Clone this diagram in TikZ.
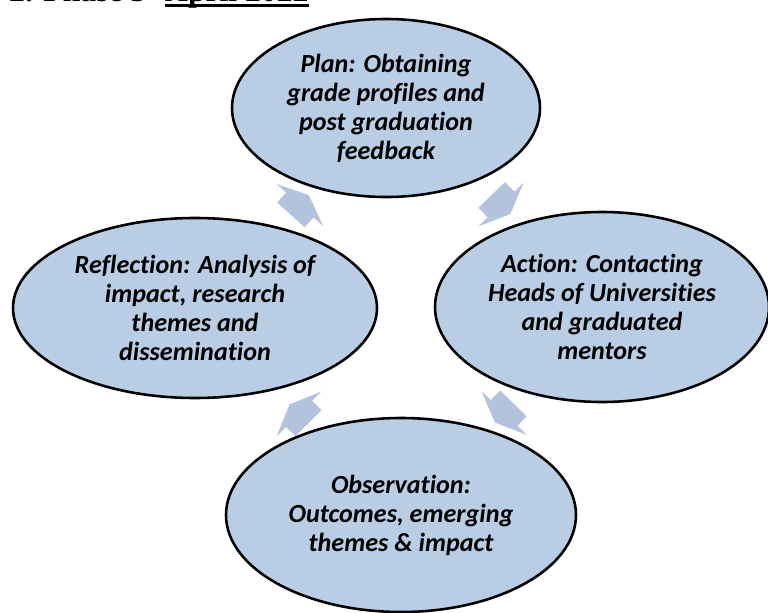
\documentclass[tikz,border=0pt]{standalone}
\usepackage{fontspec}
\setmainfont{Carlito}[Ligatures=NoCommon]
\newfontfamily\headfont{Liberation Serif}
\usetikzlibrary{shapes.geometric,calc,backgrounds}

\definecolor{ovalblue}{RGB}{185,205,228}
\definecolor{arrowblue}{RGB}{179,195,222}

\tikzset{
  stage/.style={ellipse, draw=black, line width=2.2pt, fill=ovalblue,
    inner sep=0pt, align=center,
    font=\bfseries\itshape\fontsize{22.3}{24.7}\selectfont},
  heading/.style={anchor=base west, inner sep=0pt,
    font=\headfont\bfseries\fontsize{27}{30}\selectfont},
  % short, wide block arrow pointing along +x
  cyclearrow/.pic={
    \fill[arrowblue] (-0.4,-0.555) -- (0,-0.555) -- (0,-0.945) -- (0.4,0)
      -- (0,0.945) -- (0,0.555) -- (-0.4,0.555) -- cycle;
  }
}

\begin{document}
\begin{tikzpicture}
  \useasboundingbox (0,0) rectangle (23.04,-18.36);
  \clip (0,0) rectangle (23.04,-18.36);

  % heading, only its lower edge is on the page
  \node (head) [heading] at (0.27,-0.06) {2. Phase 3 –};
  \node (month) [heading] at (4.95,-0.06) {April 2022};
  \draw[line width=0.09cm] ([yshift=-0.11cm]month.base west) -- ([yshift=-0.11cm]month.base east);

  % the four stages of the cycle
  \node (plan) [stage, minimum width=9.24cm, minimum height=5.34cm] at (11.58,-3.24)
    {Plan: Obtaining\\grade profiles and\\post graduation\\feedback};
  \node (action) [stage, minimum width=10.02cm, minimum height=5.7cm] at (18.06,-9.21)
    {Action: Contacting\\Heads of Universities\\and graduated\\mentors};
  \node (observation) [stage, minimum width=10.5cm, minimum height=5.82cm] at (12.03,-15.45)
    {Observation:\\Outcomes, emerging\\themes \& impact};
  \node (reflection) [stage, minimum width=10.92cm, minimum height=5.4cm] at (5.85,-9.24)
    {Reflection: Analysis of\\impact, research\\themes and\\dissemination};

  % arrows go behind the ovals
  \begin{pgfonlayer}{background}
    \pic[rotate=-46] at ($(plan.center)!0.5!(action.center)+(0.21,0.09)$) {cyclearrow};
    \pic[rotate=-134] at ($(action.center)!0.5!(observation.center)+(0.08,-0.06)$) {cyclearrow};
    \pic[rotate=135] at ($(observation.center)!0.5!(reflection.center)+(0.03,-0.07)$) {cyclearrow};
    \pic[rotate=48] at ($(reflection.center)!0.5!(plan.center)+(0.28,0.09)$) {cyclearrow};
  \end{pgfonlayer}
\end{tikzpicture}
\end{document}
